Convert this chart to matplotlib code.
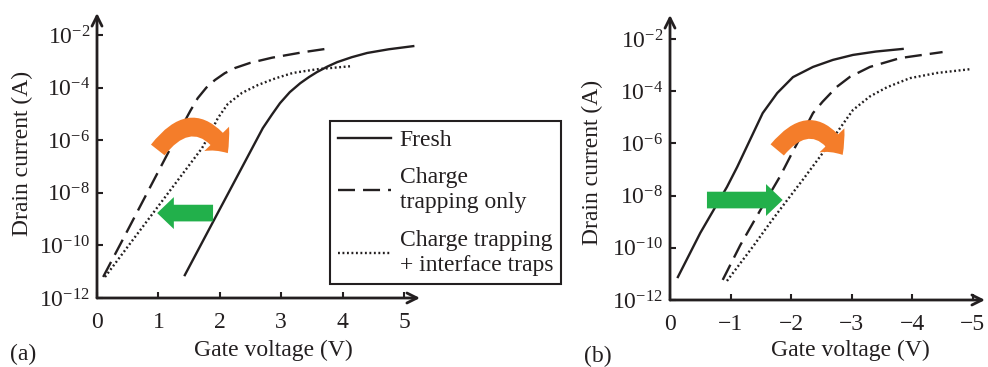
import numpy as np
import matplotlib.pyplot as plt
from matplotlib.patches import FancyArrowPatch
from matplotlib.ticker import FixedLocator, NullLocator, LogFormatterMathtext

plt.rcParams['font.family'] = ['Liberation Serif', 'DejaVu Serif']
plt.rcParams['mathtext.fontset'] = 'custom'
plt.rcParams['mathtext.rm'] = 'Liberation Serif'
plt.rcParams['mathtext.it'] = 'Liberation Serif:italic'
plt.rcParams['font.size'] = 17

INK = '#231f20'
ORANGE = '#f47d2a'
GREEN = '#22b04b'
FS = 17

# (a) positive gate voltage, drain current as log10(A)
va_fresh = [1.43, 1.87, 2.20, 2.45, 2.70, 2.85, 2.98, 3.14, 3.31, 3.45, 3.58, 3.75, 3.91, 4.15, 4.40, 4.75, 5.15]
la_fresh = [-11.13, -9.19, -7.74, -6.64, -5.54, -5.02, -4.59, -4.17, -3.83, -3.6, -3.41, -3.2, -3.03, -2.84, -2.68, -2.54, -2.42]
va_charge = [0.10, 0.50, 0.94, 1.16, 1.40, 1.52, 1.64, 1.78, 1.92, 2.08, 2.25, 2.49, 2.85, 3.36, 3.71]
la_charge = [-11.2, -9.42, -7.45, -6.47, -5.4, -4.88, -4.4, -4.0, -3.71, -3.45, -3.25, -3.06, -2.86, -2.65, -2.53]
va_iface = [0.13, 0.59, 1.00, 1.40, 1.71, 1.81, 1.97, 2.13, 2.36, 2.62, 2.90, 3.19, 3.58, 4.15]
la_iface = [-11.2, -9.77, -8.5, -7.26, -6.3, -5.88, -5.15, -4.62, -4.2, -3.9, -3.65, -3.44, -3.3, -3.18]

# (b) negative gate voltage
vb_fresh = [-0.13, -0.50, -0.94, -1.11, -1.32, -1.53, -1.77, -2.03, -2.36, -2.69, -3.02, -3.40, -3.84]
lb_fresh = [-11.12, -9.43, -7.67, -6.9, -5.87, -4.84, -4.07, -3.46, -3.07, -2.8, -2.61, -2.48, -2.38]
vb_charge = [-0.87, -1.16, -1.49, -1.82, -2.03, -2.19, -2.36, -2.52, -2.75, -2.97, -3.30, -3.80, -4.50]
lb_charge = [-11.23, -9.9, -8.56, -7.25, -6.3, -5.6, -4.84, -4.4, -3.84, -3.45, -3.07, -2.73, -2.5]
vb_iface = [-0.94, -1.37, -1.65, -1.86, -2.19, -2.52, -2.75, -3.02, -3.30, -3.58, -3.96, -4.41, -4.98]
lb_iface = [-11.27, -9.95, -9.05, -8.4, -7.4, -6.37, -5.6, -4.72, -4.2, -3.85, -3.5, -3.3, -3.15]

labels = ['Fresh', 'Charge\ntrapping only', 'Charge trapping\n+ interface traps']
ytick_vals = [1e-12, 1e-10, 1e-8, 1e-6, 1e-4, 1e-2]

fig = plt.figure(figsize=(9.88, 3.67), dpi=100)
ax1 = fig.add_axes([97 / 988, 1 - 298 / 367, 323 / 988, 285 / 367])
ax2 = fig.add_axes([670 / 988, 1 - 300 / 367, 315 / 988, 285 / 367])

dash = (0, (7.2, 3.4))
dot = (0, (0.8, 1.1))


def style_axes(ax, xlim, ytop, xticks):
    ax.set_yscale('log')
    ax.set_xlim(*xlim)
    ax.set_ylim(1e-12, 10 ** ytop)
    for s in ax.spines.values():
        s.set_visible(False)
    # axis lines with open arrow heads
    for end in [(1, 0), (0, 1)]:
        ax.annotate('', xy=end, xytext=(0, 0), xycoords='axes fraction',
                    arrowprops=dict(arrowstyle='->', lw=2, color=INK,
                                    mutation_scale=18, shrinkA=0, shrinkB=0))
    ax.xaxis.set_major_locator(FixedLocator(xticks))
    ax.yaxis.set_major_locator(FixedLocator(ytick_vals))
    ax.yaxis.set_minor_locator(NullLocator())
    ax.yaxis.set_major_formatter(LogFormatterMathtext())
    ax.tick_params(direction='in', length=4, width=1.5, color=INK,
                   labelcolor=INK, labelsize=FS)
    ax.tick_params(axis='x', pad=10)
    ax.tick_params(axis='y', pad=5)
    ax.patch.set_visible(False)


style_axes(ax1, (0, 5.26), -1.16, [0, 1, 2, 3, 4, 5])
style_axes(ax2, (0, -5.2), -1.08, [0, -1, -2, -3, -4, -5])

h1, = ax1.plot(va_fresh, 10.0 ** np.array(la_fresh), color=INK, lw=1.7)
h2, = ax1.plot(va_charge, 10.0 ** np.array(la_charge), color=INK, lw=1.7, linestyle=dash)
h3, = ax1.plot(va_iface, 10.0 ** np.array(la_iface), color=INK, lw=1.7, linestyle=dot)

ax2.plot(vb_fresh, 10.0 ** np.array(lb_fresh), color=INK, lw=1.7)
ax2.plot(vb_charge, 10.0 ** np.array(lb_charge), color=INK, lw=1.7, linestyle=dash)
ax2.plot(vb_iface, 10.0 ** np.array(lb_iface), color=INK, lw=1.7, linestyle=dot)


def block_arrow(ax, x0, x1, y):
    ax.add_patch(FancyArrowPatch((x0, 10 ** y), (x1, 10 ** y),
                                 arrowstyle='simple,tail_width=1.2,head_width=2.3,head_length=1.2',
                                 mutation_scale=10, color=GREEN, lw=0,
                                 shrinkA=0, shrinkB=0, zorder=5))


def bent_arrow(ax, p0, p1, rad):
    ax.add_patch(FancyArrowPatch((p0[0], 10 ** p0[1]), (p1[0], 10 ** p1[1]),
                                 connectionstyle=f'arc3,rad={rad}',
                                 arrowstyle='simple,tail_width=1.25,head_width=2.5,head_length=1.3',
                                 mutation_scale=10, color=ORANGE, lw=0,
                                 shrinkA=0, shrinkB=0, zorder=5))


block_arrow(ax1, 1.89, 0.98, -8.77)
bent_arrow(ax1, (0.99, -6.37), (2.13, -6.49), -0.7)
block_arrow(ax2, -0.61, -1.86, -8.17)
bent_arrow(ax2, (-1.77, -6.25), (-2.85, -6.44), -0.7)

for xc, yc in [(22, 153), (592, 162)]:
    fig.text(xc / 988, 1 - yc / 367, 'Drain current (A)', rotation=90,
             ha='center', va='center', color=INK, fontsize=FS)
fig.text(273 / 988, 1 - 350 / 367, 'Gate voltage (V)', ha='center', va='center', color=INK, fontsize=FS)
fig.text(850 / 988, 1 - 350 / 367, 'Gate voltage (V)', ha='center', va='center', color=INK, fontsize=FS)
fig.text(23 / 988, 1 - 354 / 367, '(a)', ha='center', va='center', color=INK, fontsize=FS)
fig.text(598 / 988, 1 - 356 / 367, '(b)', ha='center', va='center', color=INK, fontsize=FS)

leg = fig.legend([h1, h2, h3], labels, loc='upper left',
                 bbox_to_anchor=(330 / 988, 1 - 121 / 367), frameon=True,
                 fancybox=False, edgecolor=INK, framealpha=1, borderaxespad=0,
                 handlelength=2.25, handletextpad=0.35, labelspacing=0.7,
                 borderpad=0.35, fontsize=FS)
leg.get_frame().set_linewidth(1.5)
for t in leg.get_texts():
    t.set_color(INK)
    t.set_linespacing(1.25)

fig.savefig('out.png', dpi=100)
